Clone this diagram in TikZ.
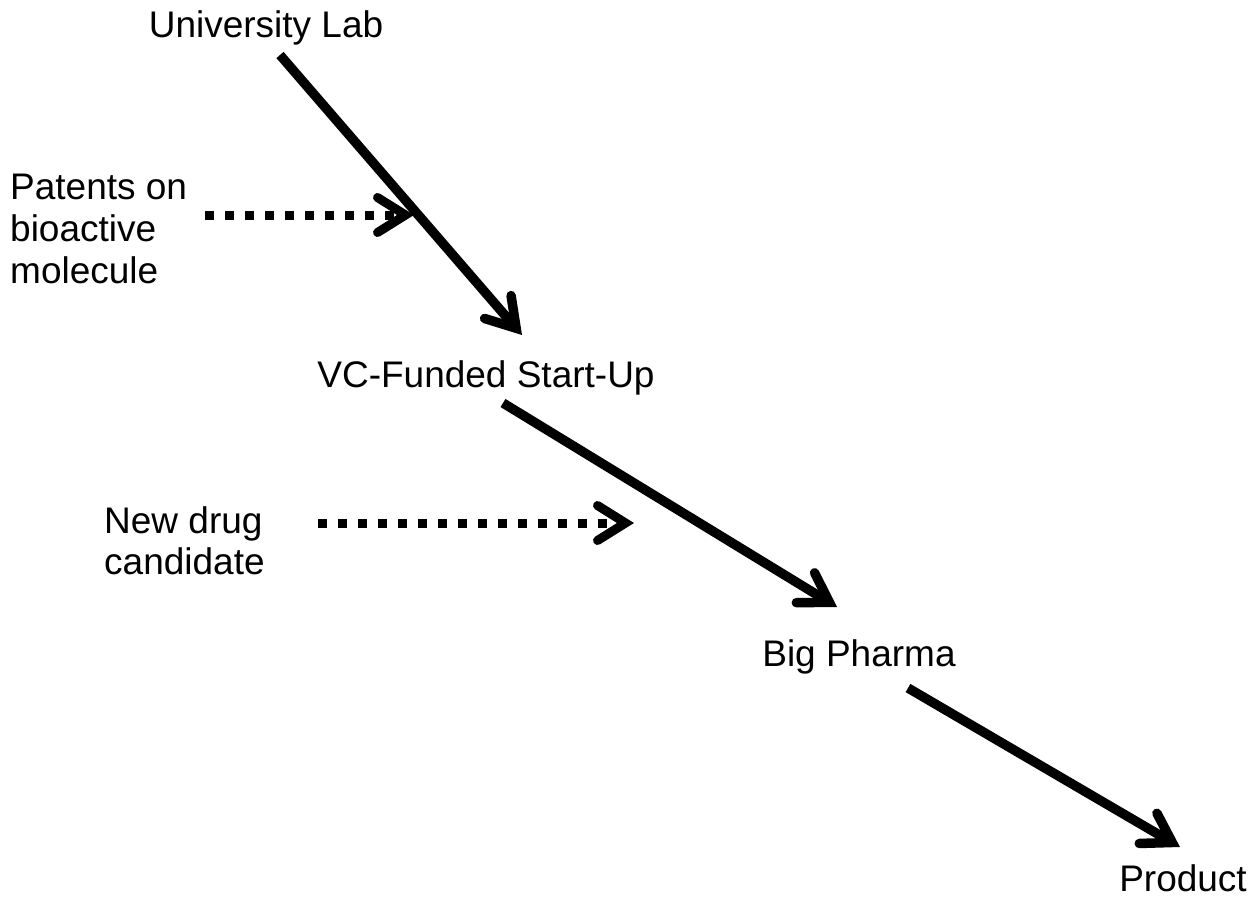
\documentclass[tikz,border=0pt]{standalone}
\usepackage{fontspec}
\setmainfont{Liberation Sans}
\usetikzlibrary{arrows.meta}
\begin{document}
\begin{tikzpicture}[x=1pt,y=-1pt,
  lbl/.style={inner sep=0pt, font=\fontsize{37}{42}\selectfont},
  flow/.style={line width=9.5pt, -{Straight Barb[length=28pt,width=35pt,line cap=round,line join=miter]}},
  dots/.style={flow, line width=9pt, dash pattern=on 9pt off 11pt}]
\useasboundingbox (0,0) rectangle (1257,900);
\node[lbl, anchor=base] (uni) at (266,37) {University Lab};
\node[lbl, anchor=north west, align=left] (pat) at (10,174) {Patents on\\bioactive\\molecule};
\node[lbl, anchor=base] (vc) at (486,387) {VC-Funded Start-Up};
\node[lbl, anchor=north west, align=left, font=\fontsize{37}{41}\selectfont] (nd) at (104,506) {New drug\\candidate};
\node[lbl, anchor=base] (bp) at (859,666) {Big Pharma};
\node[lbl, anchor=base] (prod) at (1183,891) {Product};
\draw[flow] ([shift={(14,18)}]uni.base) -- ([shift={(36,-52)}]vc.base);
\draw[flow] ([shift={(17,16)}]vc.base) -- ([shift={(-22,-59)}]bp.base);
\draw[flow] ([shift={(49,22)}]bp.base) -- ([shift={(-3,-44)}]prod.base);
\draw[dots] ([shift={(195,41)}]pat.north west) -- ([shift={(404,41)}]pat.north west);
\draw[dots] ([shift={(214,17)}]nd.north west) -- ([shift={(530,17)}]nd.north west);
\end{tikzpicture}
\end{document}
